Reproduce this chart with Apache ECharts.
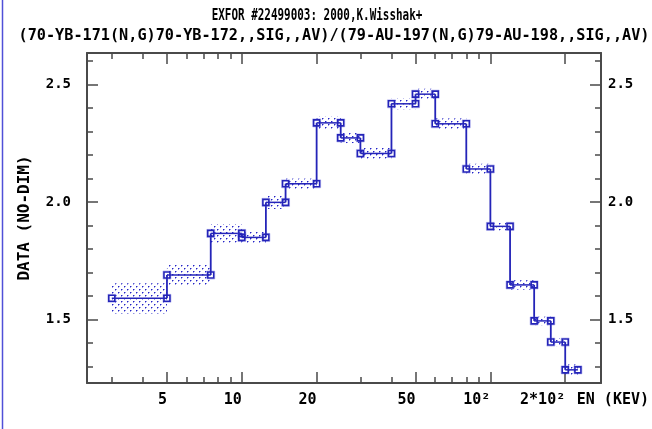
<!DOCTYPE html>
<html>
<head>
<meta charset="utf-8">
<script src="https://cdn.jsdelivr.net/npm/echarts@6/dist/echarts.min.js"></script>
<style>
  html, body { margin: 0; padding: 0; background: #ffffff; }
  #chart { width: 652px; height: 429px; }
</style>
</head>
<body>
<div id="chart"></div>
<script>
// Energy bins (keV) and the Yb-171 / Au-197 capture cross-section ratio
const binLow  = [3, 5, 7.5, 10, 12.5, 15, 20, 25, 30, 40, 50, 60, 80, 100, 120, 150, 175, 200];
const binHigh = [5, 7.5, 10, 12.5, 15, 20, 25, 30, 40, 50, 60, 80, 100, 120, 150, 175, 200, 225];
const ratio    = [1.590, 1.689, 1.866, 1.849, 1.998, 2.077, 2.336, 2.272, 2.206, 2.417, 2.458, 2.332, 2.140, 1.896, 1.647, 1.494, 1.404, 1.286];
const ratioErr = [0.064, 0.045, 0.040, 0.027, 0.028, 0.022, 0.027, 0.022, 0.023, 0.023, 0.023, 0.023, 0.022, 0.018, 0.020, 0.018, 0.017, 0.023];

// Axis ticks and their labels
const xMajorTicks  = [5, 10, 20, 50, 100, 200];
const xMajorLabels = ['5', '10', '20', '50', '10²', '2*10²'];
const xMinorTicks  = [3, 4, 6, 7, 8, 9, 30, 40, 60, 70, 80, 90];
const yMajorTicks  = [1.5, 2.0, 2.5];
const yMajorLabels = ['1.5', '2.0', '2.5'];
const yMinorTicks  = [1.3, 1.4, 1.6, 1.7, 1.8, 1.9, 2.1, 2.2, 2.3, 2.4, 2.6];

const titleText    = 'EXFOR #22499003: 2000,K.Wisshak+';
const subtitleText = '(70-YB-171(N,G)70-YB-172,,SIG,,AV)/(79-AU-197(N,G)79-AU-198,,SIG,,AV)';
const xName = 'EN (KEV)';
const yName = 'DATA (NO-DIM)';

const FONT = 'DejaVu Sans Mono';
const AXIS_COLOR = '#4a4a4a';
const MARK_COLOR = '#2424b8';

// Dotted fill used for the uncertainty bands
const patternCanvas = document.createElement('canvas');
patternCanvas.width = 6;
patternCanvas.height = 6;
(function () {
  const g = patternCanvas.getContext('2d');
  g.fillStyle = 'rgba(36,36,200,1)';
  g.fillRect(1, 1, 1, 1);
  g.fillRect(4, 4, 1, 1);
  g.fillStyle = 'rgba(36,36,200,0.45)';
  g.fillRect(2, 1, 1, 1);
  g.fillRect(5, 4, 1, 1);
  g.fillRect(1, 2, 1, 1);
  g.fillRect(4, 5, 1, 1);
})();
const dotPattern = { type: 'pattern', image: patternCanvas, repeat: 'repeat' };

function pickLabel(ticks, labels, value) {
  let best = 0, bestD = Infinity;
  ticks.forEach((t, i) => {
    const d = Math.abs(Math.log(t) - Math.log(value));
    if (d < bestD) { bestD = d; best = i; }
  });
  return labels[best];
}

const binData = binLow.map((lo, i) => [lo, binHigh[i], ratio[i], ratioErr[i], i > 0 ? ratio[i - 1] : ratio[i]]);

function renderBin(params, api) {
  const lo = api.value(0), hi = api.value(1), v = api.value(2), e = api.value(3), pv = api.value(4);
  const pLo = api.coord([lo, v]);
  const pHi = api.coord([hi, v]);
  const yTop = api.coord([lo, v + e])[1];
  const yBot = api.coord([lo, v - e])[1];
  const yPrev = api.coord([lo, pv])[1];
  const s = 6;
  const square = (p) => ({
    type: 'group',
    children: [
      { type: 'rect', shape: { x: p[0] - s / 2 - 1, y: p[1] - s / 2 - 1, width: s + 2, height: s + 2 },
        style: { fill: 'rgba(255,255,255,0)', stroke: 'rgba(90,90,220,0.35)', lineWidth: 1 } },
      { type: 'rect', shape: { x: p[0] - s / 2, y: p[1] - s / 2, width: s, height: s },
        style: { fill: 'rgba(255,255,255,0)', stroke: MARK_COLOR, lineWidth: 1.6 } }
    ]
  });
  return {
    type: 'group',
    children: [
      { type: 'rect', shape: { x: pLo[0], y: yTop, width: pHi[0] - pLo[0], height: yBot - yTop },
        style: { fill: dotPattern } },
      { type: 'line', shape: { x1: pLo[0], y1: yPrev, x2: pLo[0], y2: pLo[1] },
        style: { stroke: MARK_COLOR, lineWidth: 1.8 } },
      { type: 'line', shape: { x1: pLo[0], y1: pLo[1], x2: pHi[0], y2: pHi[1] },
        style: { stroke: MARK_COLOR, lineWidth: 1.5 } },
      square(pLo),
      square(pHi)
    ]
  };
}

const labelStyle = { color: '#000', fontFamily: FONT, fontWeight: 'bold', fontSize: 14 };

function xAxisDef(position, ticks, len, withLabels, withLine) {
  return {
    type: 'log', logBase: 10, position: position, min: 2.384, max: 278.6,
    axisLine: { show: withLine, onZero: false, lineStyle: { color: AXIS_COLOR, width: 2 } },
    axisTick: { show: true, inside: true, length: len, customValues: ticks,
                lineStyle: { color: AXIS_COLOR, width: 1.5 } },
    axisLabel: withLabels ? Object.assign({
      show: true, customValues: ticks, margin: 10, align: 'right',
      formatter: (v) => pickLabel(xMajorTicks, xMajorLabels, v)
    }, labelStyle, { fontSize: 15 }) : { show: false },
    splitLine: { show: false }, minorTick: { show: false }
  };
}

function yAxisDef(position, ticks, len, withLabels, withLine, margin) {
  return {
    type: 'value', position: position, min: 1.23, max: 2.633,
    axisLine: { show: withLine, onZero: false, lineStyle: { color: AXIS_COLOR, width: 2 } },
    axisTick: { show: true, inside: true, length: len, customValues: ticks,
                lineStyle: { color: AXIS_COLOR, width: 1.5 } },
    axisLabel: withLabels ? Object.assign({
      show: true, customValues: ticks, margin: margin,
      formatter: (v) => yMajorLabels[yMajorTicks.findIndex(t => Math.abs(t - v) < 1e-6)] || ''
    }, labelStyle) : { show: false },
    splitLine: { show: false }
  };
}

const chart = echarts.init(document.getElementById('chart'), null, { renderer: 'canvas' });

const xMain = xAxisDef('bottom', xMajorTicks, 11, true, true);
xMain.name = xName;
xMain.nameLocation = 'end';
xMain.nameGap = 48;
xMain.nameTextStyle = Object.assign({ align: 'right', verticalAlign: 'top', padding: [10, 0, 0, 0] }, labelStyle, { fontSize: 15 });

const yMain = yAxisDef('left', yMajorTicks, 11, true, true, 16);
yMain.name = yName;
yMain.nameLocation = 'middle';
yMain.nameGap = 54;
yMain.nameTextStyle = Object.assign({}, labelStyle, { fontSize: 16 });

chart.setOption({
  animation: false,
  backgroundColor: '#ffffff',
  grid: { left: 87, right: 51, top: 53, bottom: 46, containLabel: false, outerBoundsMode: 'none' },
  xAxis: [
    xMain,
    xAxisDef('bottom', xMinorTicks, 6, false, false),
    xAxisDef('top', xMajorTicks, 11, false, true),
    xAxisDef('top', xMinorTicks, 6, false, false)
  ],
  yAxis: [
    yMain,
    yAxisDef('left', yMinorTicks, 6, false, false, 0),
    yAxisDef('right', yMajorTicks, 11, true, true, 7),
    yAxisDef('right', yMinorTicks, 6, false, false, 0)
  ],
  graphic: [
    { type: 'line', shape: { x1: 2.5, y1: 0, x2: 2.5, y2: 429 },
      style: { stroke: '#5050d8', lineWidth: 1.5 }, silent: true },
    { type: 'text', x: 317, y: 16, scaleX: 0.72, silent: true,
      style: { text: titleText, fill: '#000', fontFamily: FONT, fontWeight: 'bold', fontSize: 15.2,
               align: 'center', verticalAlign: 'middle' } },
    { type: 'text', x: 334, y: 36, silent: true,
      style: { text: subtitleText, fill: '#000', fontFamily: FONT, fontWeight: 'bold', fontSize: 15.2,
               align: 'center', verticalAlign: 'middle' } }
  ],
  series: [
    {
      type: 'custom',
      name: 'ratio',
      xAxisIndex: 0, yAxisIndex: 0,
      renderItem: renderBin,
      encode: { x: [0, 1], y: [2] },
      data: binData,
      clip: true
    }
  ]
});
</script>
</body>
</html>
